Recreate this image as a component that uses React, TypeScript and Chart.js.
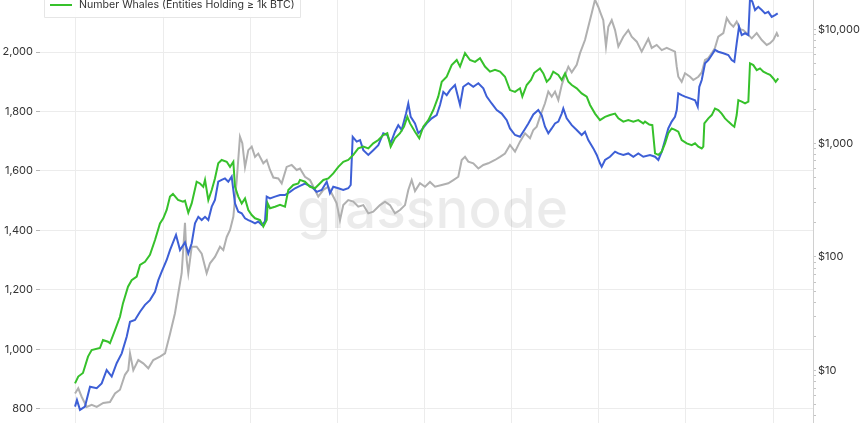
import React, { useEffect, useRef } from "react";
import { Chart, registerables } from "chart.js";

Chart.register(...registerables);

// ---- axis / label data ----
const yearTicks = [2012, 2013, 2014, 2015, 2016, 2017, 2018, 2019, 2020];
const whaleTicks = [800, 1000, 1200, 1400, 1600, 1800, 2000];
const priceLabels = [10, 100, 1000, 10000];
const priceDecades = [1, 10, 100, 1000, 10000];
const priceMultipliers = [1, 2, 3, 4, 5, 6, 7, 8, 9];
const legendLabel = "Number Whales (Entities Holding ≥ 1k BTC)";
const watermarkText = "glassnode";

// ---- series: [decimal year, value] ----
const greenWhales: [number, number][] = [
  [2011.989, 886], [2012.026, 909], [2012.080, 921], [2012.138, 976], [2012.180, 998], [2012.275, 1005],
  [2012.310, 1032], [2012.367, 1026], [2012.390, 1021], [2012.448, 1065], [2012.505, 1110], [2012.539, 1155],
  [2012.597, 1211], [2012.639, 1233], [2012.697, 1245], [2012.735, 1284], [2012.792, 1295], [2012.849, 1318],
  [2012.907, 1368], [2012.964, 1424], [2013.002, 1441], [2013.041, 1469], [2013.079, 1514], [2013.113, 1523],
  [2013.171, 1503], [2013.228, 1497], [2013.251, 1500], [2013.289, 1460], [2013.328, 1491], [2013.385, 1564],
  [2013.423, 1558], [2013.461, 1547], [2013.481, 1570], [2013.519, 1502], [2013.558, 1536], [2013.595, 1575],
  [2013.633, 1626], [2013.672, 1637], [2013.730, 1631], [2013.768, 1614], [2013.806, 1631], [2013.825, 1547],
  [2013.863, 1514], [2013.902, 1491], [2013.940, 1508], [2013.978, 1469], [2014.017, 1452], [2014.055, 1441],
  [2014.112, 1435], [2014.150, 1413], [2014.189, 1435], [2014.200, 1491], [2014.227, 1475], [2014.284, 1480],
  [2014.342, 1486], [2014.399, 1480], [2014.437, 1536], [2014.494, 1553], [2014.552, 1558], [2014.571, 1570],
  [2014.628, 1564], [2014.686, 1547], [2014.743, 1542], [2014.781, 1553], [2014.839, 1570], [2014.896, 1575],
  [2014.953, 1592], [2015.011, 1614], [2015.068, 1631], [2015.125, 1637], [2015.183, 1654], [2015.240, 1676],
  [2015.298, 1682], [2015.355, 1676], [2015.412, 1693], [2015.470, 1704], [2015.527, 1721], [2015.573, 1727],
  [2015.612, 1682], [2015.661, 1710], [2015.719, 1727], [2015.765, 1749], [2015.803, 1782], [2015.834, 1760],
  [2015.891, 1732], [2015.940, 1710], [2015.986, 1749], [2016.044, 1771], [2016.101, 1805], [2016.158, 1850],
  [2016.198, 1900], [2016.255, 1917], [2016.312, 1956], [2016.370, 1973], [2016.408, 1951], [2016.465, 1996],
  [2016.522, 1973], [2016.580, 1967], [2016.637, 1979], [2016.694, 1951], [2016.752, 1934], [2016.809, 1940],
  [2016.867, 1934], [2016.924, 1917], [2016.981, 1872], [2017.039, 1866], [2017.096, 1878], [2017.123, 1850],
  [2017.173, 1889], [2017.222, 1906], [2017.260, 1930], [2017.326, 1945], [2017.364, 1928], [2017.403, 1900],
  [2017.441, 1911], [2017.478, 1934], [2017.536, 1923], [2017.575, 1906], [2017.613, 1928], [2017.651, 1900],
  [2017.690, 1889], [2017.747, 1878], [2017.804, 1861], [2017.862, 1850], [2017.900, 1822], [2017.957, 1793],
  [2018.014, 1771], [2018.072, 1782], [2018.129, 1788], [2018.187, 1793], [2018.225, 1777], [2018.282, 1766],
  [2018.339, 1771], [2018.397, 1766], [2018.454, 1771], [2018.511, 1760], [2018.531, 1766], [2018.580, 1756],
  [2018.615, 1754], [2018.646, 1659], [2018.684, 1654], [2018.723, 1665], [2018.761, 1693], [2018.798, 1727],
  [2018.837, 1743], [2018.875, 1738], [2018.913, 1732], [2018.952, 1704], [2019.010, 1693], [2019.067, 1687],
  [2019.105, 1693], [2019.143, 1682], [2019.182, 1676], [2019.200, 1682], [2019.212, 1760], [2019.258, 1777],
  [2019.297, 1788], [2019.334, 1810], [2019.372, 1805], [2019.411, 1793], [2019.449, 1777], [2019.487, 1766],
  [2019.533, 1754], [2019.556, 1749], [2019.583, 1788], [2019.602, 1838], [2019.641, 1833], [2019.679, 1827],
  [2019.717, 1833], [2019.736, 1962], [2019.774, 1956], [2019.813, 1939], [2019.851, 1945], [2019.889, 1934],
  [2019.928, 1928], [2019.966, 1923], [2020.004, 1911], [2020.031, 1900], [2020.061, 1911],
];

const blueWhales: [number, number][] = [
  [2011.989, 808], [2012.011, 830], [2012.046, 797], [2012.103, 808], [2012.161, 875], [2012.238, 870],
  [2012.295, 886], [2012.352, 931], [2012.410, 909], [2012.467, 954], [2012.525, 987], [2012.582, 1043],
  [2012.620, 1093], [2012.677, 1099], [2012.735, 1127], [2012.792, 1150], [2012.849, 1166], [2012.907, 1194],
  [2012.945, 1233], [2012.984, 1262], [2013.041, 1301], [2013.079, 1334], [2013.148, 1385], [2013.194, 1334],
  [2013.251, 1360], [2013.289, 1323], [2013.328, 1357], [2013.366, 1424], [2013.404, 1446], [2013.443, 1435],
  [2013.481, 1446], [2013.519, 1435], [2013.558, 1480], [2013.595, 1503], [2013.633, 1564], [2013.672, 1570],
  [2013.710, 1575], [2013.748, 1564], [2013.787, 1581], [2013.806, 1536], [2013.825, 1491], [2013.863, 1463],
  [2013.902, 1458], [2013.940, 1441], [2013.978, 1435], [2014.017, 1430], [2014.055, 1424], [2014.092, 1430],
  [2014.131, 1419], [2014.169, 1430], [2014.189, 1514], [2014.227, 1508], [2014.284, 1514], [2014.342, 1519],
  [2014.399, 1519], [2014.456, 1530], [2014.514, 1542], [2014.571, 1550], [2014.628, 1558], [2014.705, 1547],
  [2014.763, 1530], [2014.820, 1536], [2014.878, 1564], [2014.915, 1525], [2014.953, 1547], [2015.011, 1542],
  [2015.068, 1536], [2015.125, 1542], [2015.153, 1553], [2015.176, 1715], [2015.222, 1699], [2015.260, 1704],
  [2015.298, 1670], [2015.355, 1654], [2015.412, 1670], [2015.470, 1687], [2015.527, 1727], [2015.573, 1721],
  [2015.612, 1693], [2015.661, 1732], [2015.699, 1754], [2015.738, 1738], [2015.788, 1793], [2015.814, 1827],
  [2015.842, 1782], [2015.891, 1760], [2015.929, 1727], [2015.968, 1738], [2016.025, 1760], [2016.083, 1777],
  [2016.140, 1788], [2016.178, 1822], [2016.216, 1866], [2016.255, 1855], [2016.293, 1872], [2016.350, 1889],
  [2016.408, 1822], [2016.445, 1883], [2016.503, 1895], [2016.560, 1883], [2016.618, 1895], [2016.675, 1878],
  [2016.714, 1850], [2016.771, 1827], [2016.829, 1805], [2016.886, 1793], [2016.944, 1771], [2016.981, 1743],
  [2017.039, 1721], [2017.096, 1715], [2017.146, 1738], [2017.192, 1760], [2017.249, 1790], [2017.306, 1805],
  [2017.345, 1788], [2017.383, 1749], [2017.421, 1727], [2017.460, 1743], [2017.498, 1760], [2017.536, 1766],
  [2017.575, 1793], [2017.593, 1810], [2017.632, 1777], [2017.690, 1754], [2017.747, 1738], [2017.804, 1721],
  [2017.842, 1732], [2017.880, 1704], [2017.938, 1676], [2017.977, 1654], [2018.014, 1626], [2018.034, 1614],
  [2018.072, 1637], [2018.129, 1648], [2018.187, 1665], [2018.225, 1659], [2018.282, 1654], [2018.339, 1659],
  [2018.397, 1648], [2018.454, 1659], [2018.511, 1648], [2018.588, 1654], [2018.646, 1648], [2018.684, 1637],
  [2018.723, 1665], [2018.761, 1704], [2018.798, 1743], [2018.837, 1766], [2018.875, 1782], [2018.895, 1805],
  [2018.913, 1861], [2018.952, 1855], [2018.990, 1850], [2019.048, 1844], [2019.105, 1838], [2019.136, 1816],
  [2019.154, 1883], [2019.182, 1906], [2019.220, 1962], [2019.258, 1973], [2019.297, 1990], [2019.334, 2007],
  [2019.372, 2001], [2019.430, 1996], [2019.487, 1990], [2019.526, 1973], [2019.556, 1967], [2019.583, 2029],
  [2019.610, 2085], [2019.641, 2057], [2019.679, 2063], [2019.717, 2057], [2019.736, 2180], [2019.763, 2169],
  [2019.794, 2141], [2019.831, 2152], [2019.871, 2141], [2019.908, 2130], [2019.946, 2135], [2019.985, 2118],
  [2020.023, 2124], [2020.054, 2130],
];

const btcPrice: [number, number][] = [
  [2011.989, 6.3], [2012.026, 7.0], [2012.065, 5.9], [2012.123, 4.8], [2012.180, 5.0], [2012.238, 4.8],
  [2012.313, 5.2], [2012.390, 5.3], [2012.448, 6.3], [2012.505, 6.8], [2012.562, 9.2], [2012.600, 10.1],
  [2012.620, 14.2], [2012.658, 10.1], [2012.715, 12.4], [2012.772, 11.6], [2012.830, 10.5], [2012.887, 12.4],
  [2012.964, 13.3], [2013.022, 14.2], [2013.079, 21], [2013.136, 32], [2013.174, 48], [2013.213, 72],
  [2013.251, 200], [2013.271, 94], [2013.289, 72], [2013.328, 123], [2013.385, 123], [2013.443, 107],
  [2013.500, 72], [2013.538, 88], [2013.595, 100], [2013.653, 123], [2013.691, 115], [2013.730, 150],
  [2013.768, 173], [2013.806, 226], [2013.845, 475], [2013.882, 1143], [2013.909, 1000], [2013.940, 617],
  [2013.978, 870], [2014.017, 935], [2014.055, 760], [2014.092, 812], [2014.150, 667], [2014.189, 713],
  [2014.227, 582], [2014.265, 500], [2014.322, 490], [2014.361, 444], [2014.418, 620], [2014.476, 645],
  [2014.533, 582], [2014.571, 600], [2014.628, 508], [2014.686, 475], [2014.743, 388], [2014.781, 340],
  [2014.839, 390], [2014.896, 415], [2014.953, 340], [2014.992, 296], [2015.030, 211], [2015.068, 286],
  [2015.125, 317], [2015.183, 307], [2015.240, 277], [2015.298, 286], [2015.355, 242], [2015.412, 250],
  [2015.489, 286], [2015.547, 307], [2015.604, 286], [2015.661, 242], [2015.719, 259], [2015.776, 286],
  [2015.814, 388], [2015.853, 475], [2015.891, 380], [2015.948, 445], [2016.006, 415], [2016.063, 457],
  [2016.121, 415], [2016.198, 430], [2016.273, 445], [2016.331, 475], [2016.388, 508], [2016.427, 713],
  [2016.465, 760], [2016.503, 690], [2016.560, 667], [2016.618, 600], [2016.675, 645], [2016.732, 667],
  [2016.809, 713], [2016.867, 760], [2016.924, 812], [2016.981, 966], [2017.039, 843], [2017.096, 1033],
  [2017.154, 1225], [2017.211, 1110], [2017.249, 1310], [2017.288, 1400], [2017.326, 1714], [2017.383, 2250],
  [2017.421, 2850], [2017.460, 2570], [2017.498, 2850], [2017.536, 2400], [2017.575, 3260], [2017.613, 3980],
  [2017.651, 4720], [2017.690, 4200], [2017.747, 4900], [2017.785, 6200], [2017.842, 8100], [2017.880, 10600],
  [2017.919, 13900], [2017.957, 18300], [2017.995, 15800], [2018.022, 13900], [2018.052, 12100], [2018.083, 7100],
  [2018.110, 10600], [2018.149, 12100], [2018.187, 9900], [2018.225, 7100], [2018.282, 8650], [2018.339, 9900],
  [2018.378, 8650], [2018.436, 7830], [2018.493, 6400], [2018.531, 7300], [2018.569, 8300], [2018.608, 6900],
  [2018.665, 7330], [2018.723, 6600], [2018.780, 6900], [2018.837, 6600], [2018.875, 6400], [2018.895, 4720],
  [2018.913, 3850], [2018.952, 3470], [2018.990, 4130], [2019.048, 3850], [2019.085, 3600], [2019.143, 3850],
  [2019.182, 4200], [2019.220, 5400], [2019.258, 5620], [2019.297, 6200], [2019.334, 6900], [2019.372, 8650],
  [2019.430, 9300], [2019.469, 12600], [2019.507, 11350], [2019.545, 10600], [2019.583, 11750], [2019.621, 10100],
  [2019.659, 9900], [2019.698, 9300], [2019.756, 8370], [2019.813, 9300], [2019.871, 8100], [2019.928, 7330],
  [2019.966, 7580], [2020.004, 8100], [2020.043, 9300], [2020.061, 8650],
];

const GREEN = "#36c12b";
const BLUE = "#3d5fd6";
const GREY = "#b0b0b0";
const GRID = "#ececec";
const TEXT = "#333333";
const FONT = "Inter, 'Noto Sans', sans-serif";

const zeroPad = (s: any) => {
  s.paddingTop = 0;
  s.paddingBottom = 0;
  s.paddingLeft = 0;
  s.paddingRight = 0;
};

const watermarkPlugin = {
  id: "watermark",
  beforeDatasetsDraw(chart: any) {
    const { ctx, chartArea } = chart;
    ctx.save();
    ctx.font = `500 55px ${FONT}`;
    ctx.fillStyle = "rgba(0,0,0,0.08)";
    ctx.textAlign = "center";
    ctx.textBaseline = "alphabetic";
    ctx.fillText(watermarkText, (chartArea.left + chartArea.right) / 2 + 6, 228);
    ctx.restore();
  },
};

const legendPlugin = {
  id: "floatLegend",
  afterDraw(chart: any) {
    const { ctx } = chart;
    ctx.save();
    ctx.fillStyle = "rgba(255,255,255,0.95)";
    ctx.strokeStyle = "#e6e6e6";
    ctx.lineWidth = 1;
    ctx.beginPath();
    ctx.rect(44.5, -30.5, 256, 48);
    ctx.fill();
    ctx.stroke();
    ctx.strokeStyle = GREEN;
    ctx.lineWidth = 2;
    ctx.beginPath();
    ctx.moveTo(50, 5);
    ctx.lineTo(72, 5);
    ctx.stroke();
    ctx.font = `10.6px ${FONT}`;
    ctx.fillStyle = TEXT;
    ctx.textAlign = "left";
    ctx.textBaseline = "middle";
    ctx.fillText(legendLabel, 79, 5);
    ctx.restore();
  },
};

export default function App() {
  const ref = useRef<HTMLCanvasElement | null>(null);

  useEffect(() => {
    if (!ref.current) return;
    const toXY = (arr: [number, number][]) => arr.map(([x, y]) => ({ x, y }));
    const chart = new Chart(ref.current, {
      type: "line",
      data: {
        datasets: [
          {
            label: legendLabel,
            data: toXY(greenWhales),
            borderColor: GREEN,
            borderWidth: 2,
            pointRadius: 0,
            yAxisID: "y",
            order: 0,
          },
          {
            label: "Number Whales (Addresses)",
            data: toXY(blueWhales),
            borderColor: BLUE,
            borderWidth: 2,
            pointRadius: 0,
            yAxisID: "y",
            order: 1,
          },
          {
            label: "Price",
            data: toXY(btcPrice),
            borderColor: GREY,
            borderWidth: 2,
            pointRadius: 0,
            yAxisID: "y1",
            order: 2,
          },
        ],
      },
      options: {
        animation: false,
        responsive: false,
        devicePixelRatio: 1,
        layout: { padding: 0, autoPadding: false },
        plugins: {
          legend: { display: false },
          tooltip: { enabled: false },
          title: { display: false },
        },
        scales: {
          x: {
            type: "linear",
            min: 2011.587,
            max: 2020.459,
            border: { display: false },
            grid: { color: GRID, drawTicks: false },
            ticks: { display: false },
            afterBuildTicks: (s: any) => {
              s.ticks = yearTicks.map((v) => ({ value: v }));
            },
            afterFit: (s: any) => {
              s.height = 0;
              zeroPad(s);
            },
          },
          y: {
            type: "linear",
            position: "left",
            min: 752.9,
            max: 2174.8,
            border: { display: false },
            grid: { color: GRID, tickColor: "#b5b5b5", tickLength: 4 },
            ticks: {
              color: TEXT,
              padding: 3,
              font: { family: FONT, size: 11 },
              callback: (v: any) => Number(v).toLocaleString("en-US"),
            },
            afterBuildTicks: (s: any) => {
              s.ticks = whaleTicks.map((v) => ({ value: v }));
            },
            afterFit: (s: any) => {
              s.width = 40;
              zeroPad(s);
            },
          },
          y1: {
            type: "logarithmic",
            position: "right",
            min: 3.467,
            max: 18203,
            border: { display: true, color: "#d0d0d0" },
            grid: { drawOnChartArea: false, tickLength: 3, tickColor: "#c4c4c4" },
            ticks: {
              color: TEXT,
              padding: 2,
              autoSkip: false,
              font: { family: FONT, size: 11 },
              callback: (v: any) =>
                priceLabels.includes(Number(v)) ? "$" + Number(v).toLocaleString("en-US") : "",
            },
            afterBuildTicks: (s: any) => {
              const vals: any[] = [];
              priceDecades.forEach((d) =>
                priceMultipliers.forEach((m) => {
                  const v = m * d;
                  if (v >= s.min && v <= s.max) vals.push({ value: v, major: m === 1 });
                })
              );
              s.ticks = vals;
            },
            afterFit: (s: any) => {
              s.width = 51;
              zeroPad(s);
            },
          },
        },
      } as any,
      plugins: [watermarkPlugin, legendPlugin],
    });
    return () => chart.destroy();
  }, []);

  return (
    <div
      style={{
        position: "fixed",
        left: 0,
        top: 0,
        width: 864,
        height: 423,
        background: "#ffffff",
        overflow: "hidden",
      }}
    >
      <canvas ref={ref} width={864} height={423} style={{ display: "block", width: 864, height: 423 }} />
    </div>
  );
}
